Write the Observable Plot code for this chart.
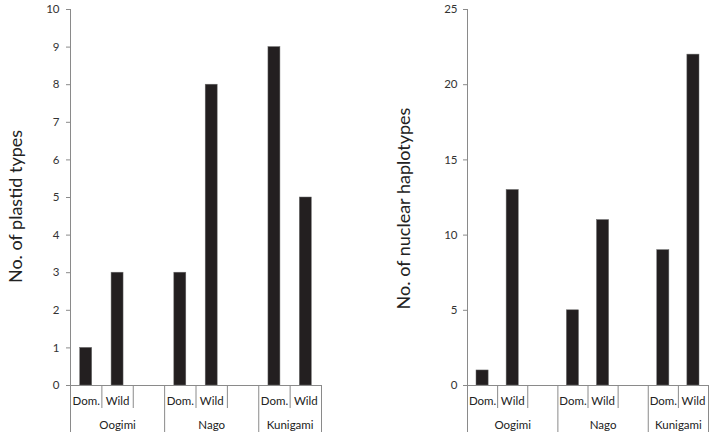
<!DOCTYPE html>
<html><head><meta charset="utf-8">
<script src="https://cdn.jsdelivr.net/npm/d3@7"></script>
<script src="https://cdn.jsdelivr.net/npm/@observablehq/plot@0.6"></script>
<style>
body{margin:0;background:#fff}
#c{display:flex;width:715px;height:439px;align-items:flex-start}
</style>
</head><body><div id="c"></div>
<script>
const regions = ["Oogimi", "Nago", "Kunigami"];
const types = ["Dom.", "Wild"];
const plastidTypes = [1, 3, 3, 8, 9, 5];
const nuclearHaplotypes = [1, 13, 5, 11, 9, 22];
const plastidTicks = [0, 1, 2, 3, 4, 5, 6, 7, 8, 9, 10];
const nuclearTicks = [0, 5, 10, 15, 20, 25];
const plastidLabel = "No. of plastid types";
const nuclearLabel = "No. of nuclear haplotypes";

const nSlots = regions.length * 3 - 1;

function panel({values, ticks, label, width, marginLeft, marginRight, inset, tickPadding, labelDx, labelDy}) {
  const rows = regions.flatMap((r, i) => types.map((t, j) => ({
    region: r, type: t, slot: i * 3 + j, value: values[i * types.length + j]
  })));
  const bounds = d3.range(nSlots + 1);
  const longB = bounds.filter(b => b % 3 === 0 || b === nSlots);
  const shortB = bounds.filter(b => !longB.includes(b));
  const typeCenters = new Map(rows.map(d => [d.slot + 0.5, d.type]));
  const regionCenters = new Map(regions.map((r, i) => [(i * 3 + Math.min(i * 3 + 3, nSlots)) / 2, r]));
  const line = "#8a8a8a";
  return Plot.plot({
    width, height: 439,
    marginLeft, marginRight, marginTop: 9, marginBottom: 54,
    style: {fontFamily: "Lato, 'Open Sans', sans-serif", fontSize: "11.5px", color: "#333", background: "#fff"},
    x: {domain: [0, nSlots], axis: null},
    y: {domain: [d3.min(ticks), d3.max(ticks)], axis: null},
    marks: [
      Plot.rect(rows, {x1: "slot", x2: d => d.slot + 1, y1: 0, y2: "value",
        insetLeft: inset, insetRight: inset, fill: "#231f20", stroke: "#6b6b6b", strokeWidth: 0.5}),
      Plot.axisY({ticks, tickSize: 4, tickPadding, stroke: line, fill: "#333", label: null}),
      Plot.ruleX([0], {stroke: line}),
      Plot.ruleY([0], {stroke: line}),
      Plot.axisX({ticks: shortB, tickSize: 23, tickFormat: () => "", stroke: line, label: null}),
      Plot.axisX({ticks: longB, tickSize: 47, tickFormat: () => "", stroke: line, label: null}),
      Plot.axisX({ticks: [...typeCenters.keys()], tickSize: 0, tickPadding: 11, tickFormat: v => typeCenters.get(v), fill: "#222", label: null}),
      Plot.axisX({ticks: [...regionCenters.keys()], tickSize: 0, tickPadding: 35, tickFormat: v => regionCenters.get(v), fill: "#222", label: null}),
      Plot.text([label], {text: d => d, frameAnchor: "left", textAnchor: "middle", rotate: -90,
        dx: labelDx, dy: labelDy, fontSize: 18, fill: "#222"})
    ]
  });
}

const c = document.getElementById("c");
c.append(panel({values: plastidTypes, ticks: plastidTicks, label: plastidLabel,
  width: 360, marginLeft: 70, marginRight: 39, inset: 9.7, tickPadding: 7, labelDx: -54, labelDy: 9}));
c.append(panel({values: nuclearHaplotypes, ticks: nuclearTicks, label: nuclearLabel,
  width: 355, marginLeft: 107, marginRight: 7, inset: 9, tickPadding: 6, labelDx: -63, labelDy: 11}));
</script>
</body></html>
